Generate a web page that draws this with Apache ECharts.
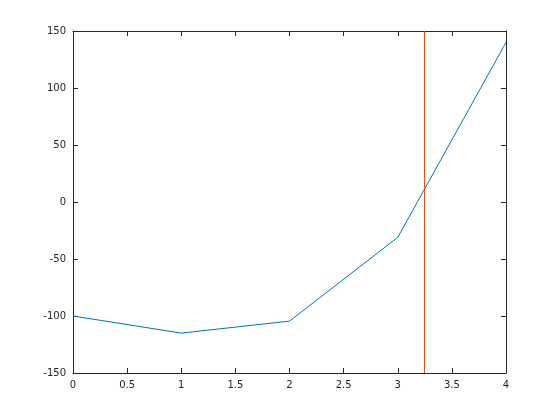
<!DOCTYPE html>
<html>
<head>
<meta charset="utf-8">
<script src="https://cdn.jsdelivr.net/npm/echarts@6/dist/echarts.min.js"></script>
<style>html,body{margin:0;padding:0;background:#fff;}#c{width:560px;height:420px;}</style>
</head>
<body>
<div id="c"></div>
<script>
const xValues = [0, 1, 2, 3, 4];
const yValues = [-100, -115, -104.5, -31, 140];
const rootX = 3.247;
const yRange = [-150, 150];

const chart = echarts.init(document.getElementById('c'), null, {renderer: 'canvas'});
const axisColor = '#262626';
const lineData = xValues.map((x, i) => [x, yValues[i]]);
const vData = [[rootX, yRange[0]], [rootX, yRange[1]]];

function axisCommon(extra) {
  return Object.assign({
    type: 'value',
    axisLine: {show: true, onZero: false, lineStyle: {color: axisColor, width: 1}},
    axisTick: {show: true, inside: true, length: 5, lineStyle: {color: axisColor}},
    splitLine: {show: false},
    axisLabel: {color: axisColor, fontFamily: 'DejaVu Sans', fontSize: 10}
  }, extra);
}

chart.setOption({
  animation: false,
  backgroundColor: '#fff',
  grid: {left: 73, right: 54, top: 31, bottom: 47},
  xAxis: [
    axisCommon({min: 0, max: 4, interval: 0.5, position: 'bottom', axisLabel: {color: axisColor, fontFamily: 'DejaVu Sans', fontSize: 10, margin: 7}}),
    axisCommon({min: 0, max: 4, interval: 0.5, position: 'top', axisLabel: {show: false}})
  ],
  yAxis: [
    axisCommon({min: -150, max: 150, interval: 50, position: 'left', axisLabel: {color: axisColor, fontFamily: 'DejaVu Sans', fontSize: 10, margin: 7}}),
    axisCommon({min: -150, max: 150, interval: 50, position: 'right', axisLabel: {show: false}})
  ],
  series: [
    {
      type: 'line', data: lineData, symbol: 'none',
      lineStyle: {color: '#0072BD', width: 1}, xAxisIndex: 0, yAxisIndex: 0
    },
    {
      type: 'line', data: vData, symbol: 'none',
      lineStyle: {color: '#D95319', width: 1}, xAxisIndex: 0, yAxisIndex: 0
    }
  ]
});
</script>
</body>
</html>
